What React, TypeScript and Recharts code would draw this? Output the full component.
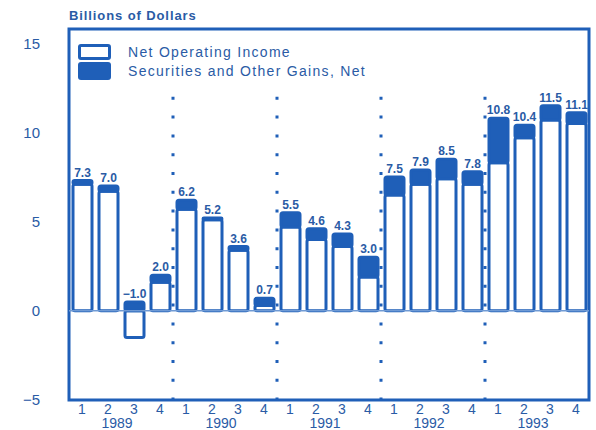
import { BarChart, Bar, XAxis, YAxis, ReferenceLine, ReferenceArea, LabelList, Legend } from 'recharts';

const BLUE = '#1f5fb8';
const TEXT = '#2a5ba5';
const FONT = '"Liberation Sans", Arial, Helvetica, sans-serif';

// quarters 1989 Q1 .. 1993 Q4
const periods = [
  '1989Q1', '1989Q2', '1989Q3', '1989Q4',
  '1990Q1', '1990Q2', '1990Q3', '1990Q4',
  '1991Q1', '1991Q2', '1991Q3', '1991Q4',
  '1992Q1', '1992Q2', '1992Q3', '1992Q4',
  '1993Q1', '1993Q2', '1993Q3', '1993Q4',
];
const quarterLabels = ['1', '2', '3', '4', '1', '2', '3', '4', '1', '2', '3', '4', '1', '2', '3', '4', '1', '2', '3', '4'];
const years = ['1989', '1990', '1991', '1992', '1993'];
const operatingIncome = [7.1, 6.7, -1.5, 1.6, 5.7, 5.1, 3.4, 0.3, 4.7, 4.0, 3.6, 1.9, 6.5, 7.1, 7.4, 7.1, 8.3, 9.7, 10.7, 10.5];
const securitiesGains = [0.2, 0.3, 0.5, 0.4, 0.5, 0.1, 0.2, 0.4, 0.8, 0.6, 0.7, 1.1, 1.0, 0.8, 1.1, 0.7, 2.5, 0.7, 0.8, 0.6];
const totalLabels = ['7.3', '7.0', '\u22121.0', '2.0', '6.2', '5.2', '3.6', '0.7', '5.5', '4.6', '4.3', '3.0', '7.5', '7.9', '8.5', '7.8', '10.8', '10.4', '11.5', '11.1'];
const yTicks = [-5, 0, 5, 10, 15];

const data = periods.map((p, i) => ({
  period: p,
  quarter: quarterLabels[i],
  year: years[Math.floor(i / 4)],
  operating: operatingIncome[i],
  gains: securitiesGains[i],
  total: totalLabels[i],
}));

// year boundaries: first quarter of each later year
const boundaries = periods.filter((p, i) => i > 0 && i % 4 === 0);

function QuarterTick(props: any) {
  const { x, y, index } = props;
  const d = data[index];
  if (!d) return null;
  return (
    <g>
      <text x={x} y={y + 14} textAnchor="middle" fontSize={14} fill={TEXT} fontFamily={FONT}>
        {d.quarter}
      </text>
      {d.quarter === '2' && (
        <text x={x + 9} y={y + 28} textAnchor="middle" fontSize={14} fill={TEXT} fontFamily={FONT}>
          {d.year}
        </text>
      )}
    </g>
  );
}

function LegendBox(props: any) {
  const items = props.payload || [];
  return (
    <div style={{ fontFamily: FONT, color: TEXT, fontSize: 14, letterSpacing: 1.3 }}>
      {items.map((it: any, i: number) => (
        <div key={i} style={{ display: 'flex', alignItems: 'center', height: 19 }}>
          <span
            style={{
              display: 'inline-block',
              width: i === 0 ? 27 : 33,
              height: i === 0 ? 10 : 18,
              border: i === 0 ? `3px solid ${BLUE}` : 'none',
              background: i === 0 ? '#fff' : BLUE,
              borderRadius: 3,
              marginRight: 17,
            }}
          />
          <span>{it.value}</span>
        </div>
      ))}
    </div>
  );
}

export default function App() {
  return (
    <div style={{ position: 'absolute', left: 0, top: 0, width: 596, height: 430, background: '#fff' }}>
      <div
        style={{
          position: 'absolute', left: 69, top: 8, fontFamily: FONT, fontSize: 13,
          fontWeight: 600, letterSpacing: 0.9, color: TEXT,
        }}
      >
        Billions of Dollars
      </div>
      <BarChart
        width={596}
        height={430}
        data={data}
        stackOffset="sign"
        barSize={19}
        margin={{ top: 29, right: 7, bottom: 0, left: 0 }}
      >
        <XAxis
          dataKey="period"
          height={30}
          tickLine={false}
          axisLine={false}
          tickSize={0}
          tickMargin={0}
          interval={0}
          tick={<QuarterTick />}
        />
        <YAxis
          width={69}
          domain={[-5, 15.8]}
          allowDataOverflow
          ticks={yTicks}
          tickLine={false}
          axisLine={false}
          tickSize={0}
          tickMargin={29}
          tickFormatter={(v: number) => (v < 0 ? `\u2212${Math.abs(v)}` : `${v}`)}
          tick={{ fontSize: 15, fill: TEXT, fontFamily: FONT }}
        />
        <Legend
          layout="horizontal"
          verticalAlign="middle"
          align="center"
          wrapperStyle={{ top: 42, left: 78, width: 'auto' }}
          content={<LegendBox />}
        />
        <ReferenceLine y={0} stroke="#6f9ad4" strokeWidth={1.5} />
        {boundaries.map((b) => (
          <ReferenceLine
            key={b}
            position="start"
            segment={[{ x: b, y: 12 }, { x: b, y: -5 }]}
            stroke={BLUE}
            strokeWidth={3}
            strokeDasharray="3 15.8"
          />
        ))}
        <Bar
          dataKey="operating"
          name="Net Operating Income"
          stackId="a"
          fill="#fff"
          stroke={BLUE}
          strokeWidth={3}
          radius={2}
          isAnimationActive={false}
        />
        <Bar
          dataKey="gains"
          name="Securities and Other Gains, Net"
          stackId="a"
          fill={BLUE}
          stroke={BLUE}
          strokeWidth={3}
          radius={2}
          isAnimationActive={false}
        >
          <LabelList
            dataKey="total"
            position="top"
            offset={4}
            fill={TEXT}
            fontSize={12}
            fontWeight={700}
            fontFamily={FONT}
          />
        </Bar>
        <ReferenceArea y1={-5} y2={15.8} fill="none" stroke={BLUE} strokeWidth={3} ifOverflow="visible" />
      </BarChart>
    </div>
  );
}
